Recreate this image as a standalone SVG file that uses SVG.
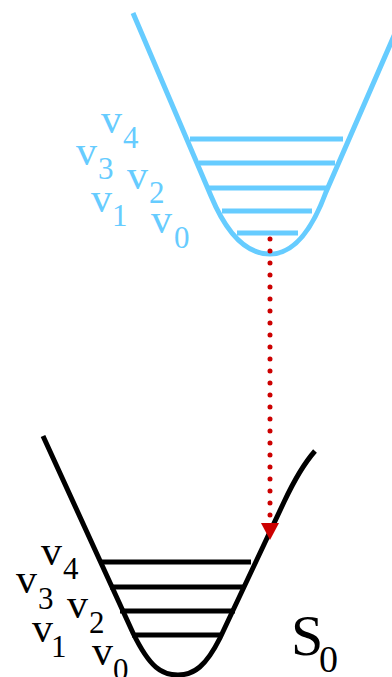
<svg xmlns="http://www.w3.org/2000/svg" width="392" height="677" viewBox="0 0 392 677">
<defs>
<style>
.blue{stroke:#66ccff;fill:none;stroke-width:5}
.black{stroke:#000;fill:none;stroke-width:5}
.lb{font-family:"Liberation Serif","Times New Roman",serif;fill:#66ccff}
.lk{font-family:"Liberation Serif","Times New Roman",serif;fill:#000}
.v{font-size:42px}
.s{font-size:31px}
</style>
</defs>
<rect width="392" height="677" fill="#fff"/>
<g id="excited">
<path class="blue" d="M133,13 L211,196 C226,232 246,254 270,254 C294,254 312,230 326,192 L400,22"/>
<g class="blue">
<line x1="190" y1="139" x2="343" y2="139"/>
<line x1="199" y1="163" x2="335" y2="163"/>
<line x1="208" y1="188" x2="327" y2="188"/>
<line x1="222" y1="211" x2="312" y2="211"/>
<line x1="237" y1="233" x2="298" y2="233"/>
</g>
<g class="lb">
<text x="101" y="133" class="v">v<tspan x="123" y="148" class="s">4</tspan></text>
<text x="76" y="165" class="v">v<tspan x="98" y="179" class="s">3</tspan></text>
<text x="127" y="189" class="v">v<tspan x="149" y="203" class="s">2</tspan></text>
<text x="91" y="212" class="v">v<tspan x="112" y="226" class="s">1</tspan></text>
<text x="151" y="233" class="v">v<tspan x="174" y="248" class="s">0</tspan></text>
</g>
</g>
<g id="ground">
<path class="black" d="M43,436 L133,633 C150,668 162,675 178,675 C194,675 206,666 220,638 L284,502 Q300,468 315,451"/>
<g class="black">
<line x1="100" y1="562" x2="251" y2="562"/>
<line x1="110" y1="587" x2="245" y2="587"/>
<line x1="120" y1="611" x2="235" y2="611"/>
<line x1="132" y1="635" x2="221" y2="635"/>
</g>
<g class="lk">
<text x="41" y="565" class="v">v<tspan x="63" y="579" class="s">4</tspan></text>
<text x="16" y="593" class="v">v<tspan x="38" y="609" class="s">3</tspan></text>
<text x="67" y="618" class="v">v<tspan x="89" y="633" class="s">2</tspan></text>
<text x="32" y="642" class="v">v<tspan x="51" y="657" class="s">1</tspan></text>
<text x="92" y="665" class="v">v<tspan x="113" y="680" class="s">0</tspan></text>
<text x="291" y="655" font-size="58">S<tspan x="319" y="672" font-size="38">0</tspan></text>
</g>
</g>
<g id="connectors">
<line x1="270" y1="239" x2="270" y2="516" stroke="#cc0000" stroke-width="5" stroke-linecap="round" stroke-dasharray="0 12"/>
<polygon points="261,523 279,523 270,540" fill="#cc0000"/>
</g>
</svg>
